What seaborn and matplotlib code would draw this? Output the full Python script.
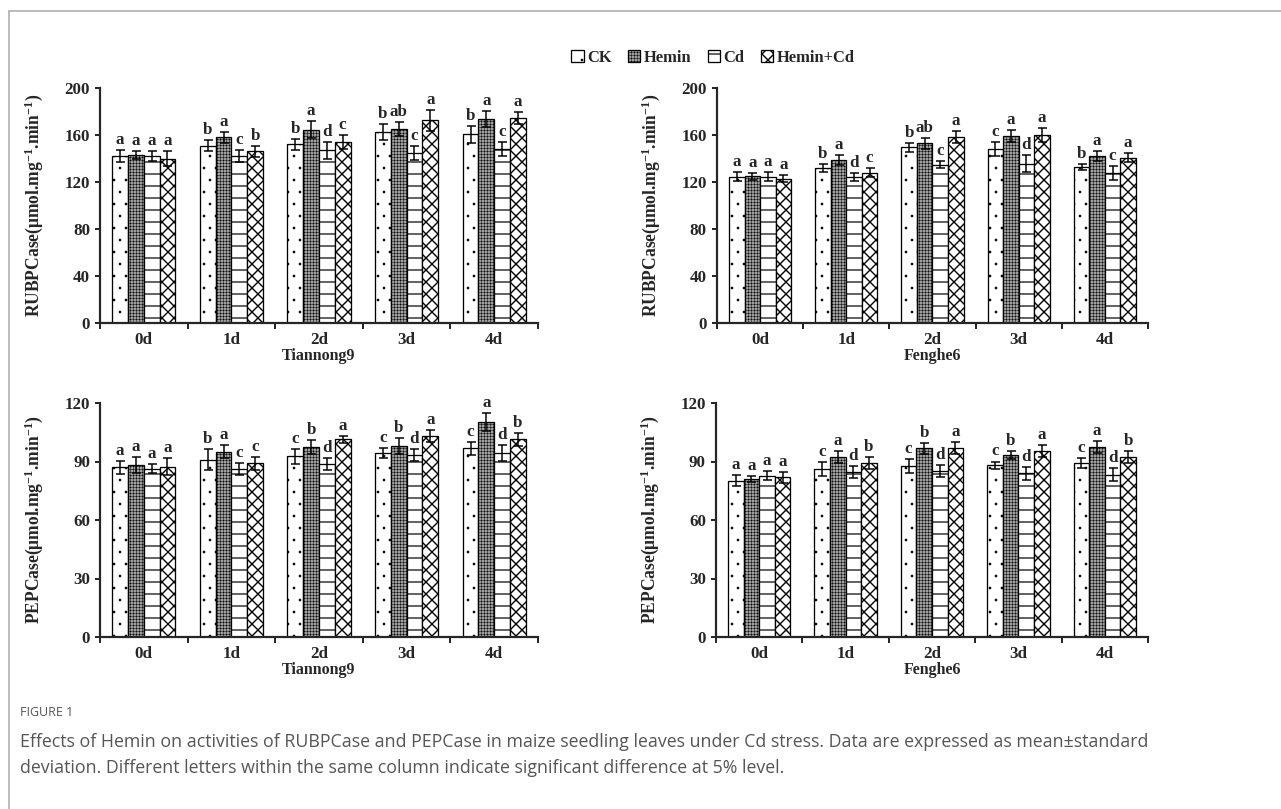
import numpy as np
import pandas as pd
import matplotlib
matplotlib.use("Agg")
import matplotlib.pyplot as plt
from matplotlib.lines import Line2D
import seaborn as sns

# ---- data -------------------------------------------------------------
days = ["0d", "1d", "2d", "3d", "4d"]
treatments = ["CK", "Hemin", "Cd", "Hemin+Cd"]

# rows follow `treatments`, columns follow `days`
rubp_tiannong_mean = [[142, 151, 152, 162.5, 160.5],
                      [143, 158, 164.5, 165, 173.5],
                      [142, 142, 147, 145, 148],
                      [140, 146, 154, 172.5, 174.5]]
rubp_tiannong_sd = [[5, 5, 5, 7, 7.5],
                    [3, 4.5, 7, 6, 7],
                    [4, 5, 7, 6, 6],
                    [6, 5, 6, 9, 5]]
rubp_tiannong_letters = [["a", "b", "b", "b", "b"],
                         ["a", "a", "a", "ab", "a"],
                         ["a", "c", "d", "c", "c"],
                         ["a", "b", "c", "a", "a"]]

rubp_fenghe_mean = [[124.6, 131.7, 149.6, 148.2, 133],
                    [125, 138.8, 152.8, 159.3, 142],
                    [124.6, 124.3, 134.6, 135.7, 127.5],
                    [122.6, 128, 158.5, 160, 140.8]]
rubp_fenghe_sd = [[4, 3.5, 4, 6, 2.5],
                  [3, 4, 5, 5, 4],
                  [3.5, 3.5, 3, 7, 6],
                  [3, 4, 5, 6, 4]]
rubp_fenghe_letters = [["a", "b", "b", "c", "b"],
                       ["a", "a", "ab", "a", "a"],
                       ["a", "d", "c", "d", "c"],
                       ["a", "c", "a", "a", "a"]]

pep_tiannong_mean = [[87, 90.9, 92.6, 94.3, 96.7],
                     [88.3, 95.1, 97.4, 98, 110.2],
                     [86.4, 86.2, 88.8, 93.4, 94.3],
                     [87.4, 89, 101.3, 103.2, 101.3]]
pep_tiannong_sd = [[3.5, 5.5, 4, 2.5, 3.5],
                   [4, 3.5, 3.5, 4, 4.5],
                   [2.5, 3, 3, 3, 4],
                   [4.5, 3.5, 2, 3, 3.5]]
pep_tiannong_letters = [["a", "b", "c", "c", "c"],
                        ["a", "a", "b", "b", "a"],
                        ["a", "c", "d", "d", "d"],
                        ["a", "c", "a", "a", "b"]]

pep_fenghe_mean = [[80.2, 86.3, 87.7, 88, 89.4],
                   [81.1, 92.3, 96.7, 93.4, 97.5],
                   [82.8, 84.6, 85.1, 83.9, 83.3],
                   [81.8, 89.4, 96.8, 95.5, 92.3]]
pep_fenghe_sd = [[3, 3.5, 3.5, 2, 2.5],
                 [1.5, 3, 3, 2, 3],
                 [2.5, 3, 3, 3.5, 3.5],
                 [3, 3, 3, 3, 3]]
pep_fenghe_letters = [["a", "c", "c", "c", "c"],
                      ["a", "a", "b", "b", "a"],
                      ["a", "d", "d", "d", "d"],
                      ["a", "b", "a", "a", "b"]]

caption_head = "FIGURE 1"
caption_line1 = ("Effects of Hemin on activities of RUBPCase and PEPCase in maize seedling leaves "
                 "under Cd stress. Data are expressed as mean\u00b1standard")
caption_line2 = ("deviation. Different letters within the same column indicate significant "
                 "difference at 5% level.")

# ---- style ------------------------------------------------------------
sns.set_theme(style="ticks")
plt.rcParams.update({
    "font.family": ["Liberation Serif", "DejaVu Serif"],
    "font.weight": "bold",
    "mathtext.fontset": "custom",
    "mathtext.default": "regular",
    "mathtext.rm": "Liberation Serif:bold",
    "hatch.linewidth": 1.0,
    "axes.linewidth": 2.2,
})

faces = {"CK": "white", "Hemin": "#9e9e9e", "Cd": "white", "Hemin+Cd": "white"}
hatches = {"CK": ".", "Hemin": "++++", "Cd": "-", "Hemin+Cd": "xx"}
hatch_widths = {"CK": 0.2, "Hemin": 0.45, "Cd": 1.2, "Hemin+Cd": 1.4}

DPI = 72
fig = plt.figure(figsize=(1281 / DPI, 809 / DPI), dpi=DPI)

W, H = 1281.0, 809.0


def axes_px(left, right, top, bottom):
    return fig.add_axes([left / W, 1 - bottom / H, (right - left) / W, (bottom - top) / H])


def style_bar(bar, t):
    bar.set_hatch(hatches[t])
    if hasattr(bar, "set_hatch_linewidth"):
        bar.set_hatch_linewidth(hatch_widths[t])


def draw_panel(ax, means, sds, letters, ymax, ystep, ylabel, xlabel):
    rows = []
    for ti, t in enumerate(treatments):
        for di, d in enumerate(days):
            rows.append({"day": d, "treatment": t, "value": means[ti][di]})
    df = pd.DataFrame(rows)
    sns.barplot(data=df, x="day", y="value", hue="treatment", order=days,
                hue_order=treatments, palette=faces, saturation=1,
                edgecolor="black", linewidth=1.3, width=0.72, gap=0,
                errorbar=None, legend=False, ax=ax)
    for ti, (cont, t) in enumerate(zip(ax.containers, treatments)):
        xs, hs = [], []
        for bar in cont:
            style_bar(bar, t)
            xs.append(bar.get_x() + bar.get_width() / 2)
            hs.append(bar.get_height())
        ax.errorbar(xs, hs, yerr=sds[ti], fmt="none", ecolor="black",
                    elinewidth=1.5, capsize=4.5, capthick=1.5, zorder=5)
        for x, h, e, lab in zip(xs, hs, sds[ti], letters[ti]):
            ax.annotate(lab, (x, h + e), xytext=(0, 2), textcoords="offset points",
                        ha="center", va="bottom", fontsize=17, fontweight="bold")
    ax.set_ylim(0, ymax)
    ax.set_xlim(-0.5, len(days) - 0.5)
    ax.set_yticks(np.arange(0, ymax + 1, ystep))
    ax.set_xticks(np.arange(-0.5, len(days), 1), minor=True)
    ax.tick_params(axis="x", which="major", length=0, pad=9, labelsize=17)
    ax.tick_params(axis="x", which="minor", length=6, width=2, direction="out")
    ax.tick_params(axis="y", length=5, width=2, direction="out", pad=5, labelsize=17)
    for lab in ax.get_xticklabels() + ax.get_yticklabels():
        lab.set_fontweight("bold")
    ax.set_ylabel(ylabel, fontsize=17.5, fontweight="bold", labelpad=19)
    ax.set_xlabel(xlabel, fontsize=16, fontweight="bold", labelpad=0)
    sns.despine(ax=ax)


rubp_label = r"RUBPCase(μmol.mg$^{-1}$.min$^{-1}$)"
pep_label = r"PEPCase(μmol.mg$^{-1}$.min$^{-1}$)"

ax1 = axes_px(100, 538, 88, 323)
ax2 = axes_px(717, 1148, 88, 323)
ax3 = axes_px(100, 538, 403, 637)
ax4 = axes_px(716, 1148, 403, 637)

draw_panel(ax1, rubp_tiannong_mean, rubp_tiannong_sd, rubp_tiannong_letters, 200, 40, rubp_label, "Tiannong9")
draw_panel(ax2, rubp_fenghe_mean, rubp_fenghe_sd, rubp_fenghe_letters, 200, 40, rubp_label, "Fenghe6")
draw_panel(ax3, pep_tiannong_mean, pep_tiannong_sd, pep_tiannong_letters, 120, 30, pep_label, "Tiannong9")
draw_panel(ax4, pep_fenghe_mean, pep_fenghe_sd, pep_fenghe_letters, 120, 30, pep_label, "Fenghe6")

# legend built from the first panel's bars
handles = [cont[0] for cont in ax1.containers]
leg = fig.legend(handles, treatments, loc="center", bbox_to_anchor=(713 / W, 1 - 58 / H),
                 ncol=4, frameon=False, handlelength=0.75, handleheight=0.75,
                 handletextpad=0.2, columnspacing=1.0,
                 prop={"family": "Liberation Serif", "weight": "bold", "size": 16.5})
for patch, t in zip(leg.get_patches(), treatments):
    style_bar(patch, t)

# page frame
frame_color = "#a8a8a8"
fig.add_artist(Line2D([9 / W, 1.0], [1 - 11 / H, 1 - 11 / H], color=frame_color, lw=1.5))
fig.add_artist(Line2D([9 / W, 9 / W], [1 - 11 / H, 0.0], color=frame_color, lw=1.5))

# caption
fig.text(20 / W, 1 - 713 / H, caption_head, fontsize=12.5, color="#555555",
         family="Open Sans", fontweight="normal", va="center")
fig.text(20 / W, 1 - 742 / H, caption_line1, fontsize=17.7, color="#555555",
         family="Open Sans", fontweight="normal", va="center")
fig.text(20 / W, 1 - 768 / H, caption_line2, fontsize=17.7, color="#555555",
         family="Open Sans", fontweight="normal", va="center")

fig.savefig("out.png", dpi=DPI)
